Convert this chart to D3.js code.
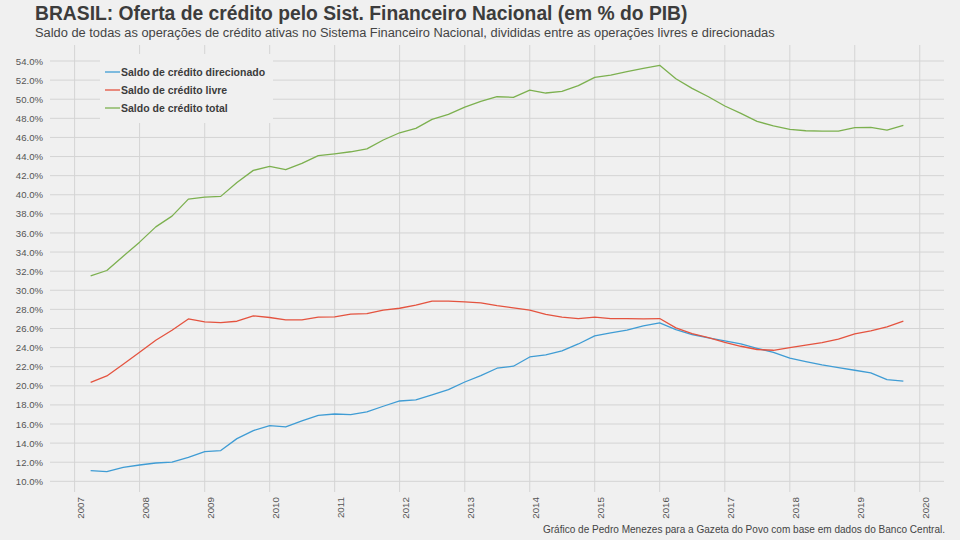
<!DOCTYPE html>
<html>
<head>
<meta charset="utf-8">
<script src="https://cdn.jsdelivr.net/npm/d3@7"></script>
<style>
  html, body { margin: 0; padding: 0; background: #f0f0f0; }
  svg { display: block; font-family: 'Liberation Sans', Arial, Helvetica, sans-serif; }
</style>
</head>
<body>
<div id="chart"></div>
<script>
// quarterly series, % do PIB
const firstQuarter = '2007-04-01';
const lastQuarter = '2019-10-01';

const direcionado = [
  11.12, 11.01, 11.47,
  11.71, 11.92, 12.02, 12.51,
  13.11, 13.22, 14.47, 15.31,
  15.83, 15.69, 16.32, 16.91,
  17.05, 16.98, 17.26, 17.86,
  18.41, 18.52, 19.04, 19.6,
  20.4, 21.07, 21.84, 22.05,
  23.02, 23.24, 23.65, 24.38,
  25.22, 25.54, 25.82, 26.27,
  26.59, 25.89, 25.37, 25.01,
  24.7, 24.38, 23.93, 23.51,
  22.89, 22.54, 22.18, 21.91,
  21.63, 21.35, 20.65, 20.48,
];

const livre = [
  20.37, 21.03, 22.26,
  23.51, 24.77, 25.82, 27.0,
  26.69, 26.62, 26.76, 27.32,
  27.15, 26.9, 26.9, 27.18,
  27.21, 27.5, 27.55, 27.92,
  28.12, 28.44, 28.86, 28.86,
  28.79, 28.68, 28.4, 28.16,
  27.92, 27.48, 27.18, 27.04,
  27.18, 27.04, 27.04, 27.0,
  27.04, 26.06, 25.47, 25.05,
  24.55, 24.14, 23.8, 23.72,
  24.0, 24.25, 24.53, 24.88,
  25.43, 25.75, 26.17, 26.76,
];

const total = [
  31.5, 32.07, 33.57,
  35.04, 36.64, 37.76, 39.54,
  39.75, 39.83, 41.29, 42.55,
  42.97, 42.62, 43.28, 44.1,
  44.29, 44.5, 44.81, 45.73,
  46.49, 46.95, 47.89, 48.42,
  49.18, 49.78, 50.26, 50.2,
  50.96, 50.65, 50.83, 51.42,
  52.29, 52.53, 52.88, 53.23,
  53.55, 52.15, 51.14, 50.26,
  49.29, 48.52, 47.68, 47.22,
  46.85, 46.7, 46.67, 46.67,
  47.02, 47.06, 46.77, 47.27,
];

const seriesNames = [
  'Saldo de crédito direcionado',
  'Saldo de crédito livre',
  'Saldo de crédito total',
];
const yTicks = [10, 12, 14, 16, 18, 20, 22, 24, 26, 28, 30, 32, 34, 36, 38, 40, 42, 44, 46, 48, 50, 52, 54];
const xTickYears = [2007, 2008, 2009, 2010, 2011, 2012, 2013, 2014, 2015, 2016, 2017, 2018, 2019, 2020];

const titleText = 'BRASIL: Oferta de crédito pelo Sist. Financeiro Nacional (em % do PIB)';
const subtitleText = 'Saldo de todas as operações de crédito ativas no Sistema Financeiro Nacional, divididas entre as operações livres e direcionadas';
const captionText = 'Gráfico de Pedro Menezes para a Gazeta do Povo com base em dados do Banco Central.';

const colors = ['#3f9cd4', '#e4533f', '#7cb04f'];

const width = 960;
const height = 540;
const panel = { left: 50, right: 944, top: 45, bottom: 492 };

const quarters = d3.utcMonths(
  new Date(firstQuarter),
  d3.utcDay.offset(new Date(lastQuarter), 1),
  3,
);

const values = [direcionado, livre, total];
const series = seriesNames.map((name, i) => ({
  name,
  points: quarters.map((date, j) => ({ date, value: values[i][j] })),
}));

// ggplot style 5% expansion on both axes
const [x0, x1] = d3.extent(quarters);
const xPad = (x1 - x0) * 0.05;
const xScale = d3.scaleUtc(
  [new Date(+x0 - xPad), new Date(+x1 + xPad)],
  [panel.left, panel.right],
);

const allValues = values.flat();
const [v0, v1] = d3.extent(allValues);
const yPad = (v1 - v0) * 0.05;
const yScale = d3.scaleLinear([v0 - yPad, v1 + yPad], [panel.bottom, panel.top]);

const svg = d3
  .select('#chart')
  .append('svg')
  .attr('width', width)
  .attr('height', height)
  .attr('viewBox', [0, 0, width, height]);

svg.append('rect').attr('width', width).attr('height', height).attr('fill', '#f0f0f0');

// grid
const grid = svg.append('g').attr('stroke', '#d4d4d4').attr('stroke-width', 1);
grid
  .selectAll('.gy')
  .data(yTicks)
  .join('line')
  .attr('class', 'gy')
  .attr('x1', panel.left)
  .attr('x2', panel.right)
  .attr('y1', (d) => yScale(d))
  .attr('y2', (d) => yScale(d));
grid
  .selectAll('.gx')
  .data(xTickYears)
  .join('line')
  .attr('class', 'gx')
  .attr('x1', (d) => xScale(new Date(Date.UTC(d, 0, 1))))
  .attr('x2', (d) => xScale(new Date(Date.UTC(d, 0, 1))))
  .attr('y1', panel.top)
  .attr('y2', panel.bottom);

// axes
const yAxis = d3
  .axisLeft(yScale)
  .tickValues(yTicks)
  .tickFormat((d) => `${d.toFixed(1)}%`)
  .tickSize(0)
  .tickPadding(7);

svg
  .append('g')
  .attr('transform', `translate(${panel.left},0)`)
  .call(yAxis)
  .call((g) => g.select('.domain').remove())
  .call((g) =>
    g.selectAll('text').attr('fill', '#555').style('font-size', '9.6px').style('font-family', 'Liberation Sans, Arial, sans-serif'),
  );

const xAxis = d3
  .axisBottom(xScale)
  .tickValues(xTickYears.map((d) => new Date(Date.UTC(d, 0, 1))))
  .tickFormat(d3.utcFormat('%Y'))
  .tickSize(0);

svg
  .append('g')
  .attr('transform', `translate(0,${panel.bottom})`)
  .call(xAxis)
  .call((g) => g.select('.domain').remove())
  .call((g) =>
    g
      .selectAll('text')
      .attr('fill', '#555')
      .style('font-size', '9.8px')
      .style('font-family', 'Liberation Sans, Arial, sans-serif')
      .attr('text-anchor', 'end')
      .attr('dominant-baseline', 'central')
      .attr('x', 0)
      .attr('y', 0)
      .attr('dy', null)
      .attr('transform', 'translate(5.5,5) rotate(-90)'),
  );

// lines
const line = d3
  .line()
  .x((d) => xScale(d.date))
  .y((d) => yScale(d.value));

svg
  .append('g')
  .selectAll('path')
  .data(series)
  .join('path')
  .attr('fill', 'none')
  .attr('stroke', (_d, i) => colors[i])
  .attr('stroke-width', 1.3)
  .attr('stroke-linejoin', 'round')
  .attr('d', (d) => line(d.points));

// legend
const legend = svg.append('g').attr('transform', 'translate(100,54)');
legend.append('rect').attr('width', 173).attr('height', 69).attr('fill', '#f0f0f0');
const items = legend
  .selectAll('.item')
  .data(seriesNames)
  .join('g')
  .attr('class', 'item')
  .attr('transform', (_d, i) => `translate(0,${18 + i * 18})`);
items
  .append('line')
  .attr('x1', 5)
  .attr('x2', 20)
  .attr('stroke', (_d, i) => colors[i])
  .attr('stroke-width', 1.3);
items
  .append('text')
  .attr('x', 21)
  .attr('dy', '0.35em')
  .attr('fill', '#3c3c3c')
  .style('font-size', '10.5px')
  .style('font-weight', 'bold')
  .text((d) => d);

// titles
svg
  .append('text')
  .attr('x', 35)
  .attr('y', 19.5)
  .attr('fill', '#3c3c3c')
  .style('font-size', '19.3px')
  .style('font-weight', 'bold')
  .text(titleText);

svg
  .append('text')
  .attr('x', 35)
  .attr('y', 37)
  .attr('fill', '#444')
  .style('font-size', '12.85px')
  .text(subtitleText);

svg
  .append('text')
  .attr('x', 945)
  .attr('y', 533)
  .attr('text-anchor', 'end')
  .attr('fill', '#444')
  .style('font-size', '10.05px')
  .text(captionText);
</script>
</body>
</html>
